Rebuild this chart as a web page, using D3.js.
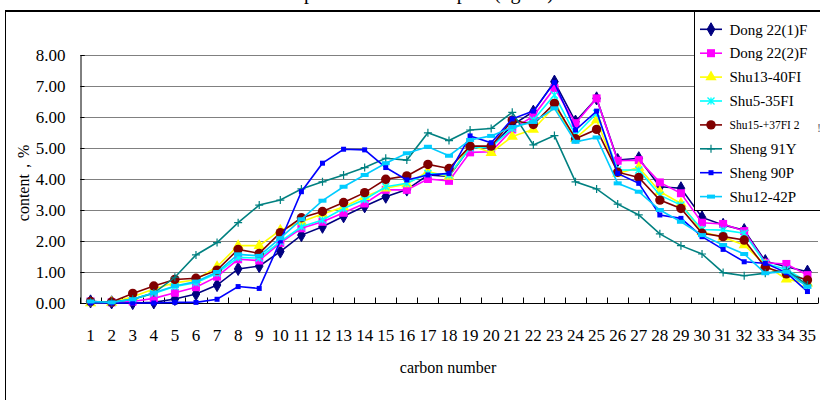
<!DOCTYPE html>
<html><head><meta charset="utf-8">
<script src="https://cdn.jsdelivr.net/npm/d3@7"></script>
<style>html,body{margin:0;padding:0;background:#fff;}svg{display:block;font-family:"Liberation Serif","Times New Roman",serif;}</style>
</head><body>
<script>
const categories = d3.range(1, 36).map(String);
const yTicks = [0,1,2,3,4,5,6,7,8];
const seriesNames = ["Dong 22(1)F","Dong 22(2)F","Shu13-40FI","Shu5-35FI","Shu15-+37FI 2","Sheng 91Y","Sheng 90P","Shu12-42P"];
const dong22_1F = [0.05,0.02,0.0,0.02,0.13,0.29,0.58,1.10,1.19,1.66,2.19,2.46,2.80,3.12,3.43,3.66,4.13,4.08,5.02,5.02,5.74,6.17,7.14,5.85,6.60,4.61,4.67,3.75,3.70,2.76,2.52,2.35,1.35,1.17,1.01];
const dong22_2F = [0.05,0.02,0.05,0.15,0.33,0.51,0.85,1.41,1.37,1.94,2.41,2.62,2.91,3.21,3.65,3.65,4.00,3.94,4.86,4.88,5.60,6.03,6.93,5.80,6.60,4.59,4.61,3.89,3.54,2.59,2.55,2.32,1.30,1.26,0.90];
const shu13_40FI = [0.0,0.02,0.20,0.45,0.65,0.75,1.17,1.85,1.85,2.35,2.62,2.87,3.10,3.43,3.70,3.84,4.24,4.08,5.10,4.85,5.37,5.60,6.33,5.31,5.90,4.18,4.37,3.59,3.21,2.30,2.12,1.87,1.23,0.77,0.64];
const shu5_35FI = [0.05,0.02,0.12,0.31,0.53,0.65,0.96,1.47,1.45,1.98,2.46,2.68,3.05,3.34,3.75,3.86,4.18,4.13,5.00,5.04,5.63,5.90,6.71,5.42,6.12,4.29,4.29,3.48,3.16,2.37,2.35,2.25,1.28,1.08,0.69];
const shu15_37FI2 = [0.05,0.03,0.31,0.55,0.76,0.80,1.06,1.73,1.60,2.27,2.75,2.95,3.24,3.56,3.99,4.10,4.47,4.34,5.06,5.06,5.90,5.76,6.44,5.30,5.60,4.22,4.05,3.32,3.05,2.25,2.14,2.03,1.15,0.94,0.74];
const sheng91Y = [0.03,0.02,0.12,0.32,0.83,1.55,1.95,2.59,3.16,3.32,3.68,3.91,4.13,4.37,4.67,4.61,5.49,5.24,5.58,5.63,6.15,5.10,5.40,3.91,3.68,3.19,2.84,2.23,1.85,1.58,0.98,0.88,0.96,1.06,0.58];
const sheng90P = [0.0,0.0,0.0,0.0,0.02,0.02,0.12,0.53,0.47,2.00,3.59,4.51,4.96,4.94,4.37,3.97,4.13,4.18,5.39,5.17,5.94,6.19,7.11,5.58,6.19,4.18,3.86,2.84,2.73,2.14,1.73,1.33,1.28,0.98,0.37];
const shu12_42P = [0.05,0.02,0.12,0.33,0.55,0.69,1.00,1.57,1.52,2.09,2.70,3.30,3.75,4.13,4.51,4.83,5.04,4.75,5.26,5.39,5.67,5.84,6.28,5.20,5.34,3.86,3.59,3.00,2.62,2.19,1.87,1.58,0.96,1.01,0.52];
const seriesValues = [dong22_1F,dong22_2F,shu13_40FI,shu5_35FI,shu15_37FI2,sheng91Y,sheng90P,shu12_42P];
const colors = ["#000080","#FF00FF","#FFFF00","#00FFFF","#800000","#008080","#0000FF","#00CCFF"];
const markers = ["diamond","square","triangle","x","circle","plus","smallsquare","dash"];

const W = 820, H = 400;
const svg = d3.select("body").append("svg").attr("width", W).attr("height", H);

const x = d3.scaleBand().domain(categories).range([80, 818]);
const y = d3.scaleLinear().domain([0, 8]).range([303, 55]);

// title (cut off at top, as in the reference)
svg.append("text").attr("x", 372).attr("y", -1).attr("text-anchor", "middle")
  .attr("font-size", 20).text("n-Alkane composition of the samples (ng/ml)");

// outer frame
svg.append("line").attr("x1", 5).attr("x2", 820).attr("y1", 11).attr("y2", 11).attr("stroke", "#000").attr("stroke-width", 2);
svg.append("line").attr("x1", 5.5).attr("x2", 5.5).attr("y1", 11).attr("y2", 400).attr("stroke", "#000").attr("stroke-width", 1);

// gridlines
svg.append("g").selectAll("line").data(yTicks.filter(d => d > 0)).join("line")
  .attr("x1", 80).attr("x2", 818).attr("y1", d => Math.round(y(d)) + 0.5).attr("y2", d => Math.round(y(d)) + 0.5)
  .attr("stroke", "#808080").attr("stroke-width", 1);

// y axis
const yAxis = svg.append("g").attr("transform", "translate(80.5,0)")
  .call(d3.axisLeft(y).tickValues(yTicks).tickFormat(d3.format(".2f")).tickSize(-4).tickPadding(15));
yAxis.select(".domain").attr("stroke", "#000");
yAxis.selectAll("text").attr("font-size", 17).attr("font-family", "Liberation Serif").attr("fill", "#000");

// x axis
const xAxisG = svg.append("g").attr("transform", "translate(0,303.5)");
xAxisG.append("line").attr("x1", 80).attr("x2", 818).attr("stroke", "#000");
const bounds = categories.map(c => x(c)).concat([x(categories[categories.length - 1]) + x.bandwidth()]);
xAxisG.selectAll("line.tk").data(bounds).join("line").attr("class", "tk")
  .attr("x1", d => Math.round(d) + 0.5).attr("x2", d => Math.round(d) + 0.5).attr("y1", 0).attr("y2", -6).attr("stroke", "#000");
xAxisG.selectAll("text").data(categories).join("text")
  .attr("x", d => x(d) + x.bandwidth() / 2).attr("y", 37).attr("text-anchor", "middle")
  .attr("font-size", 17).text(d => d);

// axis titles
svg.append("text").attr("x", 448).attr("y", 373).attr("text-anchor", "middle").attr("font-size", 16).text("carbon number");
svg.append("text").attr("transform", "translate(29,183) rotate(-90)").attr("text-anchor", "middle")
  .attr("font-size", 16).text("content，%");

function drawMarker(g, type, color, cx, cy) {
  if (type === "diamond") {
    g.append("path").attr("d", d3.symbol(d3.symbolDiamond, 50)()).attr("transform", `translate(${cx},${cy})`).attr("fill", color).attr("stroke", color);
  } else if (type === "square") {
    g.append("rect").attr("x", cx - 4).attr("y", cy - 4).attr("width", 8).attr("height", 8).attr("fill", color);
  } else if (type === "triangle") {
    g.append("path").attr("d", d3.symbol(d3.symbolTriangle, 55)()).attr("transform", `translate(${cx},${cy})`).attr("fill", color);
  } else if (type === "x") {
    g.append("path").attr("d", `M${cx-3.5},${cy-3.5}L${cx+3.5},${cy+3.5}M${cx-3.5},${cy+3.5}L${cx+3.5},${cy-3.5}M${cx},${cy-3.5}L${cx},${cy+3.5}`)
      .attr("stroke", color).attr("stroke-width", 1.3).attr("fill", "none");
  } else if (type === "circle") {
    g.append("circle").attr("cx", cx).attr("cy", cy).attr("r", 4.7).attr("fill", color);
  } else if (type === "plus") {
    g.append("path").attr("d", `M${cx-4},${cy}L${cx+4},${cy}M${cx},${cy-4}L${cx},${cy+4}`)
      .attr("stroke", color).attr("stroke-width", 1.2).attr("fill", "none");
  } else if (type === "smallsquare") {
    g.append("rect").attr("x", cx - 2.5).attr("y", cy - 2.5).attr("width", 5).attr("height", 5).attr("fill", color);
  } else if (type === "dash") {
    g.append("rect").attr("x", cx - 4).attr("y", cy - 2).attr("width", 8).attr("height", 4).attr("fill", color);
  }
}

const line = d3.line().x((d, i) => x(categories[i]) + x.bandwidth() / 2).y(d => y(d));
seriesValues.forEach((vals, si) => {
  const g = svg.append("g");
  g.append("path").datum(vals).attr("d", line).attr("fill", "none").attr("stroke", colors[si]).attr("stroke-width", 1.6);
  vals.forEach((v, i) => drawMarker(g, markers[si], colors[si], x(categories[i]) + x.bandwidth() / 2, y(v)));
});

// legend
const lg = svg.append("g");
lg.append("rect").attr("x", 694.5).attr("y", 11).attr("width", 130).attr("height", 199.5).attr("fill", "#fff").attr("stroke", "#000");
svg.append("line").attr("x1", 694).attr("x2", 820).attr("y1", 11).attr("y2", 11).attr("stroke", "#000").attr("stroke-width", 2);
seriesNames.forEach((name, si) => {
  const cy = 29.3 + si * 23.9;
  lg.append("line").attr("x1", 700).attr("x2", 722).attr("y1", cy).attr("y2", cy).attr("stroke", colors[si]).attr("stroke-width", 1.6);
  drawMarker(lg, markers[si], colors[si], 711, cy);
  const small = si === 4;
  lg.append("text").attr("x", 729.5).attr("y", cy).attr("dy", "0.35em")
    .attr("font-size", small ? 11.5 : 15).text(name);
});
lg.append("text").attr("x", 817).attr("y", 128).attr("dy", "0.35em").attr("font-size", 12).attr("fill", "#666").text("!");
</script>
</body></html>
